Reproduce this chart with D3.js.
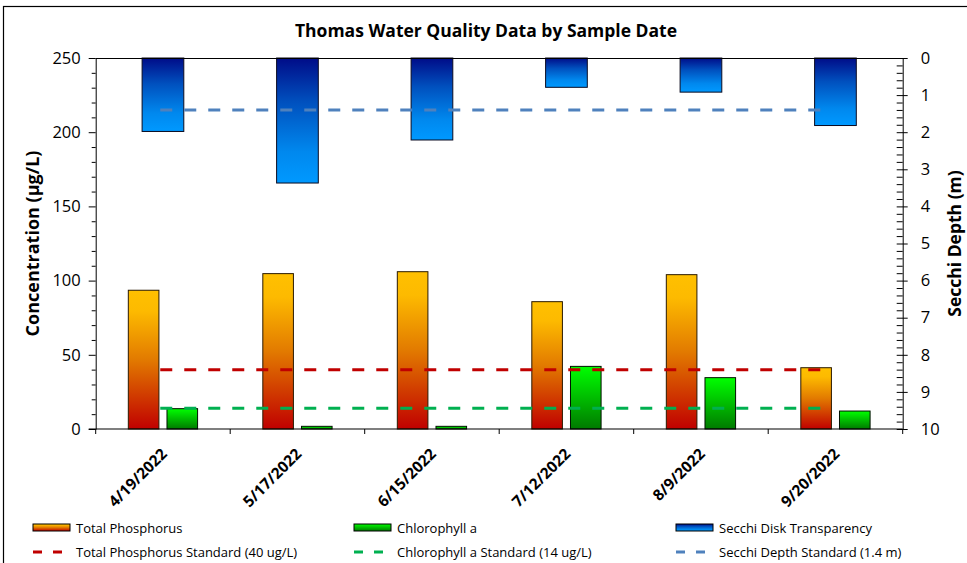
<!DOCTYPE html>
<html>
<head>
<meta charset="utf-8">
<script src="https://cdn.jsdelivr.net/npm/d3@7/dist/d3.min.js"></script>
<style>
  html, body { margin: 0; padding: 0; background: #fff; }
  svg { display: block; }
  text { font-family: "Open Sans", "Noto Sans", sans-serif; fill: #000; }
</style>
</head>
<body>
<svg id="chart" width="967" height="563"></svg>
<script>
// ---- data ----
const dates = ["4/19/2022", "5/17/2022", "6/15/2022", "7/12/2022", "8/9/2022", "9/20/2022"];
const totalPhosphorus = [93.5, 104.7, 106.0, 85.8, 104.0, 41.3];
const chlorophyllA = [13.7, 1.8, 1.8, 42.2, 34.6, 12.1];
const secchiDepth = [1.98, 3.37, 2.21, 0.79, 0.92, 1.82];
const tpStandard = 40;
const chlStandard = 14;
const secchiStandard = 1.4;
const leftTicks = [0, 50, 100, 150, 200, 250];
const rightTicks = [0, 1, 2, 3, 4, 5, 6, 7, 8, 9, 10];
const legendItems = [
  "Total Phosphorus", "Chlorophyll a", "Secchi Disk Transparency",
  "Total Phosphorus Standard (40 ug/L)", "Chlorophyll a Standard (14 ug/L)", "Secchi Depth Standard (1.4 m)"
];

// ---- layout ----
const svg = d3.select("#chart");
const plot = { left: 95.7, right: 902.7, top: 58, bottom: 429 };

const x = d3.scaleBand().domain(dates).range([plot.left, plot.right]).padding(0);
const y = d3.scaleLinear().domain([0, 250]).range([plot.bottom, plot.top]);
const y2 = d3.scaleLinear().domain([0, 10]).range([plot.top, plot.bottom]);
const bw = x.bandwidth();

// ---- gradients ----
const defs = svg.append("defs");
function grad(id, stops) {
  const g = defs.append("linearGradient").attr("id", id)
    .attr("x1", 0).attr("y1", 0).attr("x2", 0).attr("y2", 1);
  stops.forEach(s => g.append("stop").attr("offset", s[0]).attr("stop-color", s[1]));
}
grad("gTP", [[0, "#FFC000"], [0.15, "#FDBA00"], [0.5, "#E27A00"], [1, "#C00000"]]);
grad("gChl", [[0, "#00FF00"], [1, "#007A00"]]);
grad("gSec", [[0, "#000C88"], [0.35, "#0050BE"], [0.75, "#0088EE"], [1, "#0099FF"]]);

// ---- outer border ----
svg.append("rect").attr("x", 3.5).attr("y", 6.5).attr("width", 980).attr("height", 600)
  .attr("fill", "none").attr("stroke", "#000").attr("stroke-width", 1.2);

// ---- title ----
svg.append("text").attr("x", 486).attr("y", 37).attr("text-anchor", "middle")
  .attr("font-size", 17.5).attr("font-weight", "bold")
  .text("Thomas Water Quality Data by Sample Date");

// ---- bars ----
const tpW = bw * 0.2275, gapW = bw * 0.06, secW = bw * 0.31;
const groupW = tpW * 2 + gapW;

svg.append("g").selectAll("rect").data(dates).join("rect")
  .attr("x", d => x(d) + bw / 2 - secW / 2)
  .attr("y", y2(0))
  .attr("width", secW)
  .attr("height", (d, i) => y2(secchiDepth[i]) - y2(0))
  .attr("fill", "url(#gSec)").attr("stroke", "#0a0a20").attr("stroke-width", 1);

svg.append("g").selectAll("rect").data(dates).join("rect")
  .attr("x", d => x(d) + bw / 2 - groupW / 2)
  .attr("y", (d, i) => y(totalPhosphorus[i]))
  .attr("width", tpW)
  .attr("height", (d, i) => y(0) - y(totalPhosphorus[i]))
  .attr("fill", "url(#gTP)").attr("stroke", "#2a1a00").attr("stroke-width", 1);

svg.append("g").selectAll("rect").data(dates).join("rect")
  .attr("x", d => x(d) + bw / 2 - groupW / 2 + tpW + gapW)
  .attr("y", (d, i) => y(chlorophyllA[i]))
  .attr("width", tpW)
  .attr("height", (d, i) => y(0) - y(chlorophyllA[i]))
  .attr("fill", "url(#gChl)").attr("stroke", "#001000").attr("stroke-width", 1);

// ---- standard lines ----
const lx1 = x(dates[0]) + bw * 0.48;
const lx2 = x(dates[dates.length - 1]) + bw * 0.42;
const stdLines = [
  { v: y(tpStandard), c: "#C00000" },
  { v: y(chlStandard), c: "#00B050" },
  { v: y2(secchiStandard), c: "#4F81BD" }
];
svg.append("g").selectAll("line").data(stdLines).join("line")
  .attr("x1", lx1).attr("x2", lx2).attr("y1", d => d.v).attr("y2", d => d.v)
  .attr("stroke", d => d.c).attr("stroke-width", 3).attr("stroke-dasharray", "12,12");

// ---- axes ----
svg.append("line").attr("x1", plot.left).attr("x2", plot.right)
  .attr("y1", plot.top + 0.5).attr("y2", plot.top + 0.5).attr("stroke", "#000").attr("stroke-width", 1);

// left axis
const leftAxis = d3.axisLeft(y).tickValues(leftTicks).tickSize(7).tickPadding(8).tickSizeOuter(0);
const gl = svg.append("g").attr("transform", `translate(${plot.left},0)`).call(leftAxis);
gl.selectAll("text").attr("font-size", 16.5).attr("font-family", "Open Sans, sans-serif").attr("fill", "#000");
gl.selectAll("path,line").attr("stroke", "#000");
const leftMinor = d3.axisLeft(y).tickValues(d3.range(0, 251, 10).filter(v => v % 50 !== 0)).tickSize(4).tickFormat("").tickSizeOuter(0);
const glm = svg.append("g").attr("transform", `translate(${plot.left},0)`).call(leftMinor);
glm.select("path").remove();
glm.selectAll("line").attr("stroke", "#000");

// right axis
const rightAxis = d3.axisRight(y2).tickValues(rightTicks).tickSize(5).tickPadding(13).tickSizeOuter(0);
const gr = svg.append("g").attr("transform", `translate(${plot.right},0)`).call(rightAxis);
gr.selectAll("text").attr("font-size", 16.5).attr("font-family", "Open Sans, sans-serif").attr("fill", "#000");
gr.selectAll("path,line").attr("stroke", "#000");
gr.selectAll(".tick line").attr("x1", -6);
const rightMinor = d3.axisLeft(y2).tickValues(d3.range(0, 10.01, 0.2).filter(v => Math.abs(v - Math.round(v)) > 0.01)).tickSize(6).tickFormat("").tickSizeOuter(0);
const grm = svg.append("g").attr("transform", `translate(${plot.right},0)`).call(rightMinor);
grm.select("path").remove();
grm.selectAll("line").attr("stroke", "#000");

// bottom axis line and category ticks
svg.append("line").attr("x1", plot.left - 7).attr("x2", plot.right)
  .attr("y1", plot.bottom).attr("y2", plot.bottom).attr("stroke", "#000").attr("stroke-width", 1.2);
const boundaries = dates.map(d => x(d)).concat([x(dates[dates.length - 1]) + bw]);
svg.append("g").selectAll("line").data(boundaries).join("line")
  .attr("x1", d => d).attr("x2", d => d).attr("y1", plot.bottom).attr("y2", plot.bottom + 5)
  .attr("stroke", "#000");

// category labels
svg.append("g").selectAll("text").data(dates).join("text")
  .attr("transform", d => `translate(${x(d) + bw / 2 + 5},${plot.bottom + 26}) rotate(-45)`)
  .attr("text-anchor", "end").attr("font-size", 15.5).attr("font-weight", "bold")
  .text(d => d);

// axis titles
svg.append("text").attr("transform", `translate(39,${(plot.top + plot.bottom) / 2}) rotate(-90)`)
  .attr("text-anchor", "middle").attr("font-size", 18).attr("font-weight", "bold")
  .text("Concentration (µg/L)");
svg.append("text").attr("transform", `translate(961,${(plot.top + plot.bottom) / 2}) rotate(-90)`)
  .attr("text-anchor", "middle").attr("font-size", 17.5).attr("font-weight", "bold")
  .text("Secchi Depth (m)");

// ---- legend ----
const legCols = [33, 354, 676];
const legRows = [528, 552];
const swFills = ["url(#gTP)", "url(#gChl)", "url(#gSec)"];
const lineCols = ["#C00000", "#00B050", "#4F81BD"];
const lg = svg.append("g");
legendItems.forEach((name, i) => {
  const col = i % 3, row = Math.floor(i / 3);
  const cx = legCols[col], cy = legRows[row];
  if (row === 0) {
    lg.append("rect").attr("x", cx).attr("y", cy - 4).attr("width", 37).attr("height", 7)
      .attr("fill", swFills[col]).attr("stroke", "#000").attr("stroke-width", 1);
  } else {
    lg.append("line").attr("x1", cx).attr("x2", cx + 37).attr("y1", cy).attr("y2", cy)
      .attr("stroke", lineCols[col]).attr("stroke-width", 3).attr("stroke-dasharray", "9,11");
  }
  lg.append("text").attr("x", cx + 43).attr("y", cy + 4.5).attr("font-size", 13).text(name);
});
</script>
</body>
</html>
